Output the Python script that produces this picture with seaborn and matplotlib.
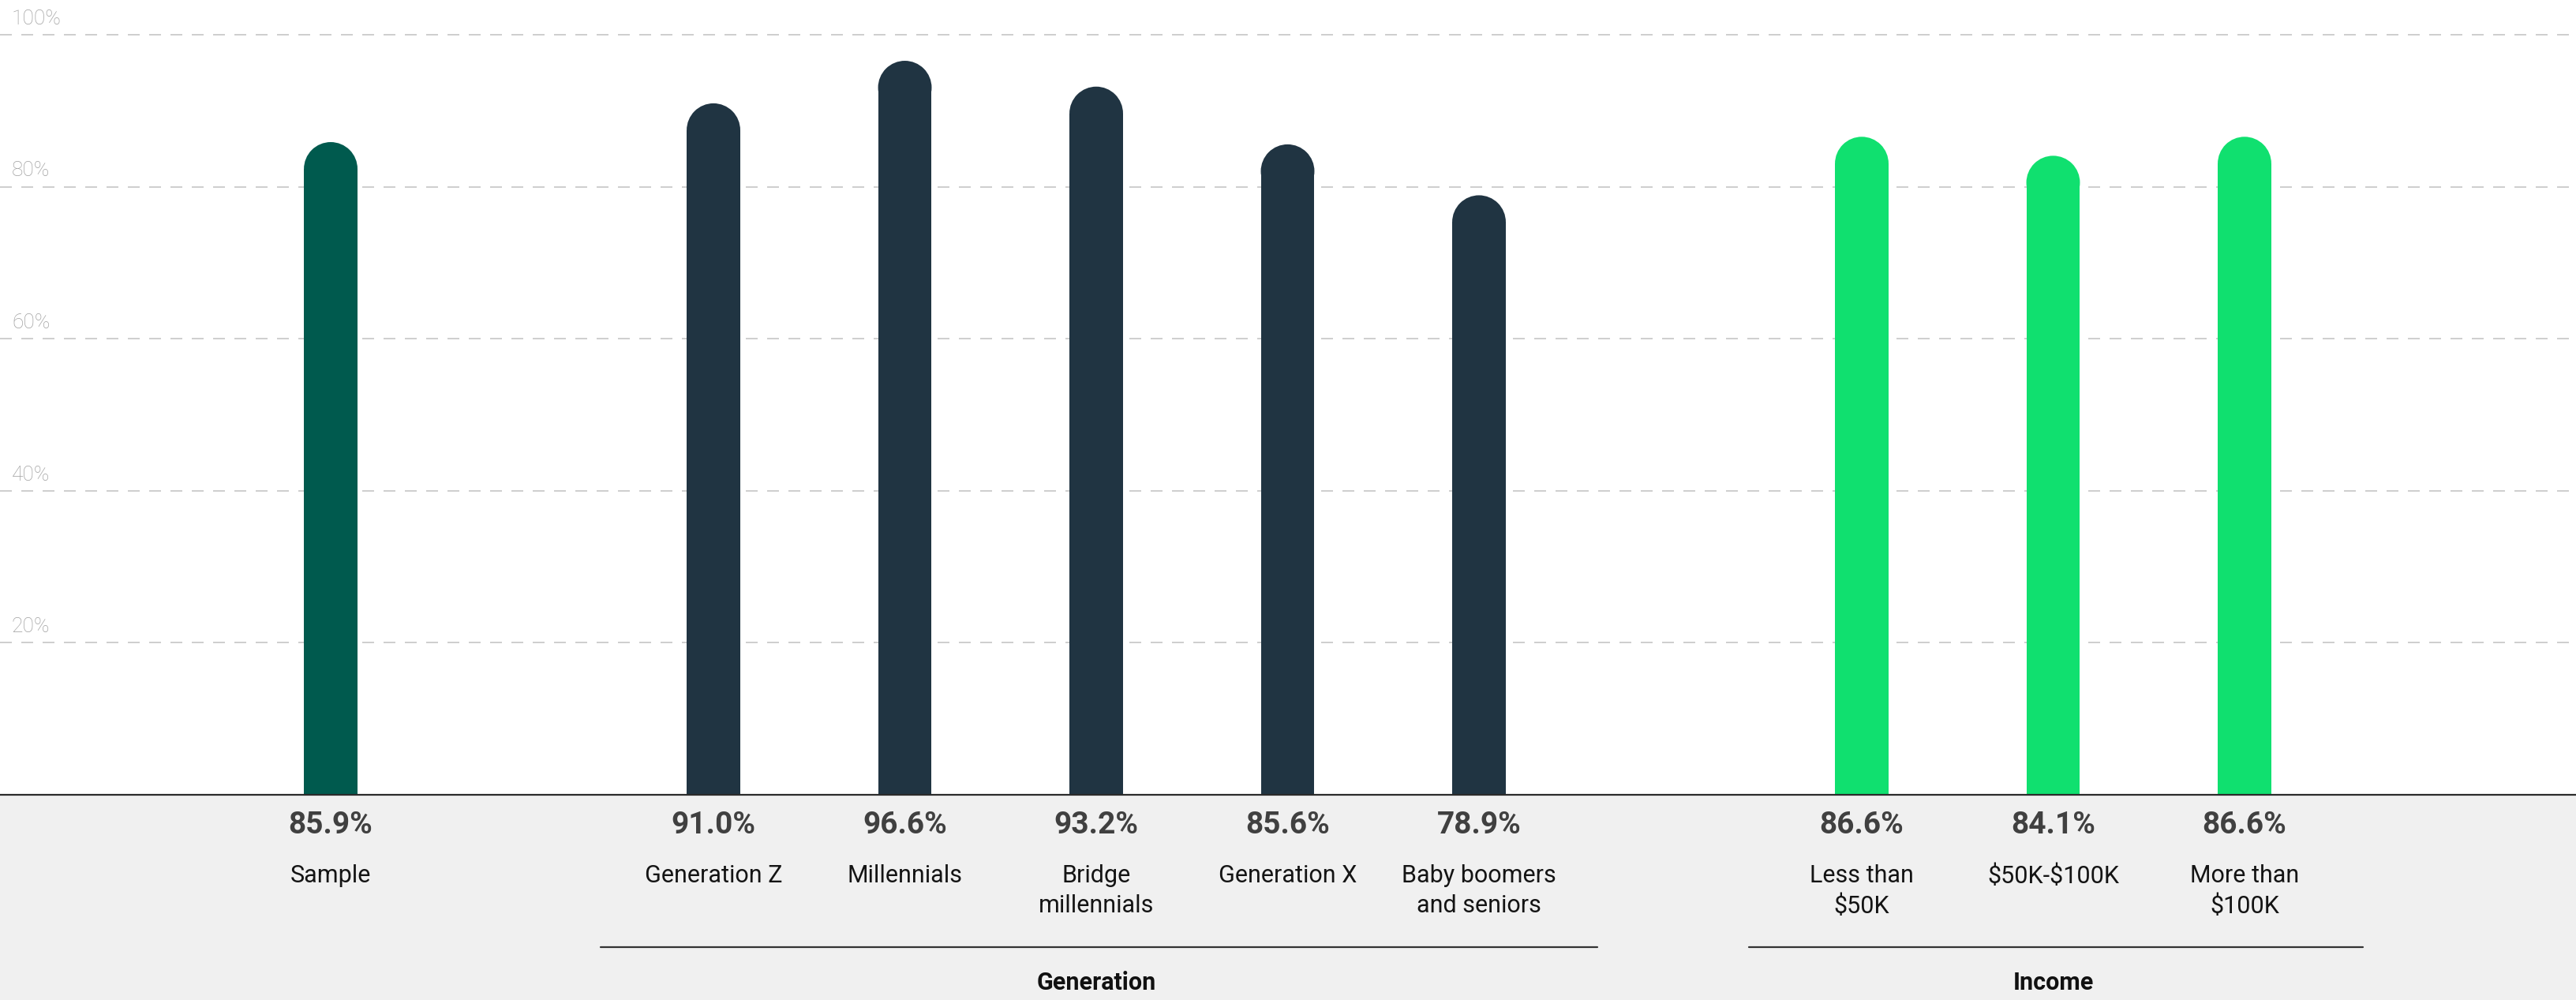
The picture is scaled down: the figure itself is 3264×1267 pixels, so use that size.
import matplotlib
matplotlib.use("Agg")
import matplotlib.pyplot as plt
import seaborn as sns
import pandas as pd
from matplotlib.patches import Ellipse
from matplotlib.transforms import blended_transform_factory, offset_copy

# ---------------- data ----------------
categories = ["Sample", "Generation Z", "Millennials", "Bridge\nmillennials",
              "Generation X", "Baby boomers\nand seniors",
              "Less than\n$50K", "$50K-$100K", "More than\n$100K"]
values = [85.9, 91.0, 96.6, 93.2, 85.6, 78.9, 86.6, 84.1, 86.6]
groups = ["Sample", "Generation", "Generation", "Generation", "Generation",
          "Generation", "Income", "Income", "Income"]
group_titles = ["Generation", "Income"]
y_ticks = [20, 40, 60, 80, 100]

palette = {"Sample": "#005a4e", "Generation": "#203442", "Income": "#10e06f"}

# positions: one slot per bar, an empty slot between groups
positions = []
p = -1
prev = None
for g in groups:
    p += 1 if (prev is None or g == prev) else 2
    positions.append(p)
    prev = g

df = pd.DataFrame({"pos": positions, "value": values, "group": groups, "cat": categories})

# ---------------- figure ----------------
sns.set_style("white")
plt.rcParams["font.family"] = ["Roboto", "DejaVu Sans"]

W, H = 3264, 1267
fig = plt.figure(figsize=(W / 100, H / 100), dpi=100)
fig.patch.set_facecolor("#f0f0f0")
axis_px = 1007
ax = fig.add_axes([0, (H - axis_px) / H, 1, axis_px / H])
ax.set_facecolor("white")

sns.barplot(data=df, x="pos", y="value", hue="group", palette=palette,
            native_scale=True, dodge=False, width=0.28, legend=False,
            saturation=1, ax=ax, linewidth=0, errorbar=None)

ax.set_xlim(-1.728, 11.732)
ax.set_ylim(0, 104.6)
ax.set_xlabel("")
ax.set_ylabel("")
ax.set_yticks(y_ticks)
ax.tick_params(left=False, labelleft=False, bottom=False, labelbottom=False)
ax.grid(axis="y", color="#c6c6c6", linewidth=1.2, linestyle=(0, (9, 7.2)))
ax.grid(axis="x", visible=False)
ax.set_axisbelow(True)
for s in ["top", "right", "left"]:
    ax.spines[s].set_visible(False)
ax.spines["bottom"].set_color("#2b2b2b")
ax.spines["bottom"].set_linewidth(1.6)

# rounded tops: shorten bar by the cap radius and add a circular cap
px_x = ax.transData.transform((1, 0))[0] - ax.transData.transform((0, 0))[0]
px_y = ax.transData.transform((0, 1))[1] - ax.transData.transform((0, 0))[1]
for patch in list(ax.patches):
    w = patch.get_width()
    h = patch.get_height()
    cx = patch.get_x() + w / 2
    rv = (w / 2) * px_x / px_y
    patch.set_height(h - rv)
    cap = Ellipse((cx, h - rv), w, 2 * rv, facecolor=patch.get_facecolor(),
                  edgecolor="none", zorder=patch.get_zorder())
    ax.add_patch(cap)

# y labels above gridlines at left
tr_y = offset_copy(blended_transform_factory(fig.transFigure, ax.transData),
                   fig=fig, x=0, y=6, units="points")
for t in y_ticks:
    ax.text(15 / W, t, f"{t}%", transform=tr_y, ha="left", va="bottom",
            fontsize=19, color="#a0a0a0", fontweight="light")

# bottom labels
tr_b = blended_transform_factory(ax.transData, fig.transFigure)
def fy(px):
    return 1 - px / H

for x, v, c in zip(positions, values, categories):
    ax.text(x, fy(1045), f"{v:.1f}%", transform=tr_b, ha="center", va="center",
            fontsize=28, fontweight="bold", color="#404040", clip_on=False)
    for i, line in enumerate(c.split("\n")):
        ax.text(x, fy(1110 + 38 * i), line, transform=tr_b, ha="center",
                va="center", fontsize=22, color="#141414", clip_on=False,
                parse_math=False)

# group brackets
for g in group_titles:
    xs = [x for x, gg in zip(positions, groups) if gg == g]
    ax.plot([min(xs) - 0.59, max(xs) + 0.62], [fy(1200), fy(1200)],
            transform=tr_b, color="#333333", linewidth=1.6, clip_on=False)
    ax.text((min(xs) + max(xs)) / 2, fy(1245), g, transform=tr_b, ha="center",
            va="center", fontsize=22, fontweight="bold", color="#111111",
            clip_on=False)

fig.savefig("out.png", dpi=100, facecolor=fig.get_facecolor())
